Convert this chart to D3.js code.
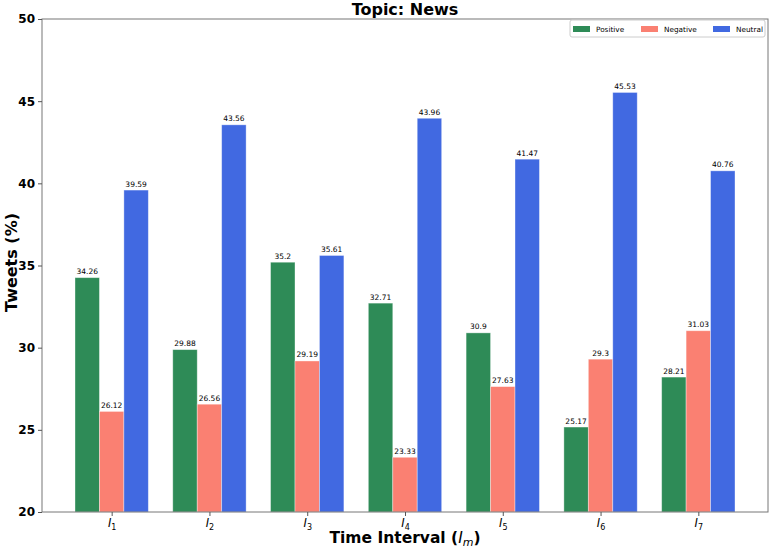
<!DOCTYPE html>
<html>
<head>
<meta charset="utf-8">
<script src="https://cdn.jsdelivr.net/npm/d3@7"></script>
<style>
  body { margin: 0; background: #fff; }
  svg { font-family: "DejaVu Sans", sans-serif; }
</style>
</head>
<body>
<svg width="774" height="549"></svg>
<script>
const intervals = ['1', '2', '3', '4', '5', '6', '7'];
const seriesNames = ['Positive', 'Negative', 'Neutral'];
const positive = [34.26, 29.88, 35.2, 32.71, 30.9, 25.17, 28.21];
const negative = [26.12, 26.56, 29.19, 23.33, 27.63, 29.3, 31.03];
const neutral = [39.59, 43.56, 35.61, 43.96, 41.47, 45.53, 40.76];
const yTicks = [20, 25, 30, 35, 40, 45, 50];
const colors = ['#2e8b57', '#fa8072', '#4169e1'];

const series = [positive, negative, neutral];
const barW = 0.25;

const margin = { left: 42, right: 6, top: 19, bottom: 37 };
const svg = d3.select('svg');
const width = +svg.attr('width');
const height = +svg.attr('height');
const innerWidth = width - margin.left - margin.right;
const innerHeight = height - margin.top - margin.bottom;
const g = svg.append('g')
  .attr('transform', `translate(${margin.left},${margin.top})`);

// matplotlib-like 5% x margin around the bars
const lo = -1.5 * barW, hi = intervals.length - 1 + 1.5 * barW;
const pad = (hi - lo) * 0.05;
const xScale = d3.scaleLinear().domain([lo - pad, hi + pad]).range([0, innerWidth]);
const yScale = d3.scaleLinear().domain([20, 50]).range([innerHeight, 0]);

// bars
series.forEach((vals, s) => {
  const off = (s - 1) * barW;
  g.selectAll('rect.s' + s)
    .data(vals)
    .enter().append('rect')
    .attr('class', 's' + s)
    .attr('x', (d, i) => xScale(i + off - barW / 2))
    .attr('y', d => yScale(d))
    .attr('width', xScale(barW) - xScale(0))
    .attr('height', d => innerHeight - yScale(d))
    .attr('fill', colors[s])
    .attr('stroke', 'rgba(255,255,255,0.45)')
    .attr('stroke-width', 0.8);

  g.selectAll('text.v' + s)
    .data(vals)
    .enter().append('text')
    .attr('class', 'v' + s)
    .attr('x', (d, i) => xScale(i + off))
    .attr('y', d => yScale(d) - 3.5)
    .attr('text-anchor', 'middle')
    .attr('font-size', 7.5)
    .attr('fill', '#000')
    .text(d => d);
});

// frame
g.append('rect')
  .attr('width', innerWidth)
  .attr('height', innerHeight)
  .attr('fill', 'none')
  .attr('stroke', '#777')
  .attr('stroke-width', 1);

// y axis
const yAxisG = g.append('g').call(
  d3.axisLeft(yScale).tickValues(yTicks).tickSize(4).tickPadding(3).tickFormat(d3.format('d'))
);
yAxisG.select('.domain').remove();
yAxisG.selectAll('.tick line').attr('stroke', '#555');
yAxisG.selectAll('.tick text')
  .attr('font-size', 12).attr('font-weight', 'bold')
  .attr('font-family', '"DejaVu Sans", sans-serif').attr('fill', '#000');

// x axis
const xAxisG = g.append('g')
  .attr('transform', `translate(0,${innerHeight})`)
  .call(d3.axisBottom(xScale).tickValues(d3.range(intervals.length)).tickSize(4).tickFormat(''));
xAxisG.select('.domain').remove();
xAxisG.selectAll('.tick line').attr('stroke', '#555');
xAxisG.selectAll('.tick').append('text')
  .attr('y', 15)
  .attr('text-anchor', 'middle')
  .attr('fill', '#000')
  .attr('font-size', 11.5)
  .attr('font-family', '"DejaVu Sans", sans-serif')
  .each(function(d) {
    const t = d3.select(this);
    t.append('tspan').attr('font-style', 'italic').text('I');
    t.append('tspan').attr('font-size', 8).attr('dy', 3).text(intervals[d]);
  });

// title
svg.append('text')
  .attr('x', margin.left + innerWidth / 2)
  .attr('y', 15)
  .attr('text-anchor', 'middle')
  .attr('font-size', 16)
  .attr('font-weight', 'bold')
  .text('Topic: News');

// axis labels
const xl = svg.append('text')
  .attr('x', margin.left + innerWidth / 2)
  .attr('y', 543)
  .attr('text-anchor', 'middle')
  .attr('font-size', 15.5)
  .attr('font-weight', 'bold');
xl.append('tspan').text('Time Interval (');
xl.append('tspan').attr('font-weight', 'normal').attr('font-style', 'italic').text('I');
xl.append('tspan').attr('font-weight', 'normal').attr('font-style', 'italic').attr('font-size', 11).attr('dy', 3).text('m');
xl.append('tspan').attr('dy', -3).text(')');

svg.append('text')
  .attr('transform', `translate(17,${margin.top + innerHeight / 2 - 3}) rotate(-90)`)
  .attr('text-anchor', 'middle')
  .attr('font-size', 16)
  .attr('font-weight', 'bold')
  .text('Tweets (%)');

// legend
const legend = svg.append('g').attr('transform', 'translate(570,20)');
legend.append('rect')
  .attr('width', 195).attr('height', 17).attr('rx', 2)
  .attr('fill', '#fff').attr('stroke', '#ccc');
const legendX = [3, 71, 143];
seriesNames.forEach((name, i) => {
  legend.append('rect')
    .attr('x', legendX[i]).attr('y', 6)
    .attr('width', 17).attr('height', 6)
    .attr('fill', colors[i]);
  legend.append('text')
    .attr('x', legendX[i] + 23).attr('y', 12)
    .attr('font-size', 7.3)
    .text(name);
});
</script>
</body>
</html>
